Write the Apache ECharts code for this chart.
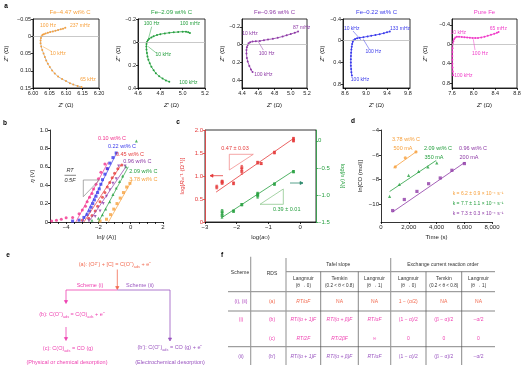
<!DOCTYPE html>
<html>
<head>
<meta charset="utf-8">
<script src="https://cdn.jsdelivr.net/npm/echarts@6/dist/echarts.min.js"></script>
<style>html,body{margin:0;padding:0;background:#fff}#main{width:525px;height:376px}</style>
</head>
<body>
<div id="main"></div>
<script>
var FONT = '"Liberation Sans", Arial, sans-serif';
var ORANGE = '#F7A03C', GREEN = '#27A040', PURPLE = '#8E3AA6', BLUE = '#3A3AEB',
    MAGENTA = '#F03CC8', PINK = '#F2308C', RED = '#E53B3B', CORAL = '#F26A50', GRAY = '#999';

// ---- a: Nyquist plots, [Z', Z''] in ohm ----
var nyq447 = [[6.147,0.147],[6.135,0.144],[6.122,0.140],[6.112,0.136],[6.100,0.130],[6.088,0.124],[6.076,0.117],
  [6.066,0.108],[6.058,0.099],[6.051,0.089],[6.045,0.080],[6.040,0.070],[6.036,0.060],[6.032,0.050],[6.028,0.040],
  [6.025,0.030],[6.023,0.020],[6.023,0.012],[6.024,0.005],[6.026,0.000],[6.029,-0.004],[6.033,-0.006],[6.038,-0.008],
  [6.045,-0.010],[6.052,-0.012],[6.060,-0.014],[6.068,-0.016],[6.076,-0.018],[6.084,-0.020],[6.091,-0.022],[6.098,-0.025]];
var nyq209 = [[4.88,0.345],[4.85,0.335],[4.82,0.318],[4.79,0.298],[4.76,0.272],[4.74,0.245],[4.72,0.215],[4.705,0.185],
  [4.693,0.155],[4.685,0.125],[4.68,0.095],[4.676,0.065],[4.675,0.040],[4.676,0.018],[4.68,0.0],[4.688,-0.015],
  [4.70,-0.028],[4.72,-0.040],[4.74,-0.050],[4.77,-0.060],[4.80,-0.068],[4.84,-0.075],[4.88,-0.080],[4.92,-0.084],
  [4.96,-0.087],[5.00,-0.090],[5.03,-0.090],[5.05,-0.085],[5.065,-0.078]];
var nyq096 = [[4.53,0.31],[4.51,0.28],[4.49,0.24],[4.47,0.19],[4.46,0.15],[4.455,0.10],[4.455,0.06],[4.46,0.03],
  [4.47,0.005],[4.48,-0.015],[4.50,-0.028],[4.53,-0.035],[4.57,-0.038],[4.62,-0.042],[4.67,-0.05],[4.72,-0.058],
  [4.78,-0.066],[4.84,-0.078],[4.90,-0.092],[4.95,-0.106],[5.00,-0.12],[5.05,-0.135],[5.09,-0.148]];
var nyq022 = [[8.73,0.64],[8.72,0.58],[8.715,0.52],[8.71,0.46],[8.71,0.40],[8.71,0.34],[8.712,0.28],[8.715,0.22],
  [8.72,0.16],[8.727,0.11],[8.735,0.06],[8.746,0.02],[8.76,-0.01],[8.79,-0.03],[8.83,-0.045],[8.88,-0.055],
  [8.95,-0.065],[9.03,-0.08],[9.10,-0.092],[9.18,-0.105],[9.26,-0.12],[9.34,-0.14],[9.40,-0.155],[9.454,-0.168]];
var nyqFe = [[7.62,0.64],[7.614,0.56],[7.61,0.48],[7.607,0.40],[7.606,0.32],[7.606,0.24],[7.607,0.16],[7.61,0.08],
  [7.615,0.0],[7.625,-0.06],[7.64,-0.11],[7.66,-0.14],[7.69,-0.155],[7.73,-0.155],[7.78,-0.15],[7.83,-0.145],
  [7.88,-0.14],[7.93,-0.135],[7.98,-0.13],[8.03,-0.128],[8.08,-0.13],[8.14,-0.14],[8.20,-0.155],[8.26,-0.175],
  [8.32,-0.195],[8.38,-0.215],[8.43,-0.235],[8.46,-0.25]];
var aTitles = ['Fe\u20134.47 wt% C', 'Fe\u20132.09 wt% C', 'Fe\u20130.96 wt% C', 'Fe\u20130.22 wt% C', 'Pure Fe'];
var aXTicks = [[6.00,6.05,6.10,6.15,6.20],[4.6,4.8,5.0,5.2],[4.4,4.6,4.8,5.0,5.2],[8.6,9.0,9.4,9.8],[7.6,8.0,8.4,8.8]];
var aYTicks = [[-0.05,0,0.05,0.10,0.15],[-0.2,0,0.2,0.4],[-0.2,0,0.2,0.4],[-0.4,0,0.4,0.8],[-0.4,0,0.4,0.8]];

// ---- b: Tafel plots, [ln i, eta] ----
var b010 = [[-4.9,0.01],[-4.6,0.02],[-4.3,0.03],[-4.0,0.045],[-3.6,0.05],[-3.2,0.09],[-3.0,0.13],[-2.8,0.17],[-2.7,0.22],
  [-2.55,0.27],[-2.4,0.31],[-2.3,0.36],[-2.15,0.41],[-2.0,0.47],[-1.85,0.54],[-1.6,0.63],[-1.45,0.58]];
var b022 = [[-3.6,0.01],[-3.2,0.02],[-2.9,0.05],[-2.7,0.08],[-2.55,0.12],[-2.45,0.16],[-2.35,0.2],[-2.25,0.24],
  [-2.15,0.28],[-2.05,0.32],[-1.95,0.36],[-1.85,0.41],[-1.75,0.46],[-1.6,0.52],[-1.45,0.58],[-1.3,0.64],[-1.1,0.7],[-0.9,0.75]];
var b045 = [[-3.0,0.02],[-2.6,0.04],[-2.4,0.07],[-2.2,0.12],[-2.05,0.17],[-1.9,0.22],[-1.75,0.27],[-1.6,0.32],
  [-1.45,0.38],[-1.3,0.43],[-1.15,0.48],[-1.0,0.53],[-0.8,0.58],[-0.55,0.62]];
var b096 = [[-2.6,0.02],[-2.2,0.06],[-1.9,0.12],[-1.7,0.2],[-1.5,0.28],[-1.3,0.35],[-1.1,0.42],[-0.9,0.47],
  [-0.75,0.61],[-0.35,0.61]];
var b209 = [[-2.4,0.02],[-2.0,0.04],[-1.75,0.08],[-1.55,0.14],[-1.3,0.22],[-1.1,0.3],[-0.9,0.37],[-0.7,0.44],
  [-0.5,0.5],[-0.3,0.6],[0.35,0.88]];
var b378 = [[-1.9,0.01],[-1.5,0.03],[-1.25,0.08],[-1.05,0.14],[-0.85,0.2],[-0.65,0.26],[-0.45,0.32],[-0.25,0.38],[-0.05,0.42]];
var bFit010 = [[-3.4,0],[-1.4,0.65]];
var bFit022 = [[-3.0,0],[-0.85,0.76]];
var bFit045 = [[-2.9,0],[-0.6,0.62]];
var bFit096 = [[-2.6,0],[-0.3,0.6]];
var bFit209 = [[-2.0,0],[-0.15,0.6]];
var bFit378 = [[-1.38,0],[0.1,0.46]];
var bNames = ['0.10 wt% C','0.22 wt% C','0.45 wt% C','0.96 wt% C','2.09 wt% C','3.78 wt% C'];

// ---- c: reaction order, [log aO, value] ----
var cRct = [[-2.63,0.76],[-2.46,0.85],[-2.46,0.88],[-2.10,0.84],[-1.84,1.10],[-1.84,1.18],[-1.34,1.29],[-1.23,1.27],
  [-0.81,1.51],[-0.21,1.77],[-0.21,1.81]];
var cRctErr = [0.04,0.03,0.03,0.03,0.06,0.05,0.03,0.02,0.03,0.03,0.03];
var cI0 = [[-2.46,-1.38],[-2.46,-1.31],[-2.10,-1.30],[-1.84,-1.18],[-1.34,-1.02],[-1.34,-0.98],[-0.81,-0.80],[-0.21,-0.57]];
var cI0Err = [0.05,0.04,0.02,0.02,0.04,0.03,0.02,0.02];
var cFitRct = [[-2.65,0.65],[-0.2,1.82]];
var cFitI0 = [[-2.5,-1.43],[-0.2,-0.55]];

// ---- d: ln[CO] vs time ----
var d378 = [[1030,-6.97],[1750,-6.24],[2520,-5.76]];
var d209 = [[620,-9.34],[1320,-8.37],[1990,-7.65],[2710,-7.32],[3380,-6.97],[4020,-6.64]];
var d096 = [[840,-10.48],[1680,-9.59],[2590,-8.94],[3430,-8.32],[4270,-7.86],[5110,-7.24],[6010,-6.70]];
var dFit378 = [[900,-7.05],[2600,-5.7]];
var dFit209 = [[620,-8.95],[3980,-6.45]];
var dFit096 = [[830,-10.6],[6050,-6.6]];

var chart = echarts.init(document.getElementById('main'));
var grids = [], xAxes = [], yAxes = [], series = [], graphics = [];

function fmt(v, d) {
  if (Math.abs(v) < 1e-9) return '0';
  return v.toFixed(d).replace('-', '\u2212');
}
function axis(o) {
  var c = o.color || '#000';
  var ax = {
    type: 'value', gridIndex: o.grid, min: o.min, max: o.max, inverse: !!o.inverse, position: o.position,
    axisLine: { show: true, onZero: false, lineStyle: { color: c, width: 0.8 } },
    axisTick: { show: true, length: 2, lineStyle: { color: c, width: 0.8 } },
    splitLine: { show: false },
    axisLabel: { fontSize: o.fs || 5.5, color: o.labelColor || '#222', margin: 2, fontFamily: FONT,
      formatter: o.formatter || function (v) { return fmt(v, o.dec || 0); } },
    name: o.name, nameLocation: 'middle', nameGap: o.gap, nameRotate: o.rotate,
    nameTextStyle: { fontSize: 6, color: o.nameColor || '#222', fontFamily: FONT,
      rich: { i: { fontStyle: 'italic', fontSize: 6, fontFamily: FONT },
              s: { fontSize: 4.2, verticalAlign: 'bottom', fontFamily: FONT } } }
  };
  if (o.labels) { ax.axisLabel.customValues = o.labels; ax.axisTick.customValues = o.ticks || o.labels; }
  if (o.interval) ax.interval = o.interval;
  return ax;
}
function txt(x, y, s, fill, size, align, opt) {
  opt = opt || {};
  var st = { text: s, fill: fill || '#222',
    font: (opt.italic ? 'italic ' : '') + (opt.bold ? 'bold ' : '') + (size || 5.5) + 'px ' + FONT,
    align: align || 'center', verticalAlign: 'middle', textAlign: align || 'center', textVerticalAlign: 'middle' };
  if (opt.rich) { st.rich = opt.rich; st.lineHeight = 9; }
  graphics.push({ type: 'text', x: x, y: y, silent: true, z: 100, style: st });
}
function ln(x1, y1, x2, y2, color, w) {
  graphics.push({ type: 'line', silent: true, z: 100, shape: { x1: x1, y1: y1, x2: x2, y2: y2 },
    style: { stroke: color, lineWidth: w || 0.7 } });
}
function poly(pts, stroke, fill) {
  graphics.push({ type: 'polygon', silent: true, z: 100, shape: { points: pts },
    style: { stroke: stroke, fill: fill || 'none', lineWidth: 0.7 } });
}
function arrowDown(x, y1, y2, c) { ln(x, y1, x, y2 - 2, c, 0.8); poly([[x - 1.6, y2 - 3], [x + 1.6, y2 - 3], [x, y2]], c, c); }

// ---------- panel a ----------
var aData = [nyq447, nyq209, nyq096, nyq022, nyqFe];
var aColors = [ORANGE, GREEN, PURPLE, BLUE, MAGENTA];
var aBox = [[33, 19, 66, 69], [138, 19, 67, 69], [242, 19, 65, 69], [343, 19, 67, 69], [452, 19, 65, 69]];
var aX = [[6.00, 6.20], [4.6, 5.2], [4.4, 5.2], [8.56, 9.84], [7.6, 8.8]];
var aY = [[-0.05, 0.15], [-0.2, 0.4], [-0.29, 0.49], [-0.4, 0.87], [-0.52, 0.9]];
var aXDec = [2, 1, 1, 1, 1], aYDec = [2, 1, 1, 1, 1], aGap = [24, 11, 16, 18, 24];
for (var i = 0; i < 5; i++) {
  var b = aBox[i];
  grids.push({ left: b[0], top: b[1], width: b[2], height: b[3], show: true, borderColor: '#000', borderWidth: 0.8 });
  xAxes.push(axis({ grid: i, min: aX[i][0], max: aX[i][1], labels: aXTicks[i], dec: aXDec[i],
    name: '{i|Z}\u2032 (\u03A9)', gap: 14 }));
  yAxes.push(axis({ grid: i, min: aY[i][0], max: aY[i][1], inverse: true, labels: aYTicks[i], dec: aYDec[i],
    name: '{i|Z}\u2033 (\u03A9)', gap: aGap[i], rotate: 90 }));
  series.push({ type: 'line', xAxisIndex: i, yAxisIndex: i, data: aData[i], symbol: 'circle', symbolSize: 2,
    itemStyle: { color: aColors[i] }, lineStyle: { color: i === 0 ? '#aaa' : aColors[i], width: 0.8 },
    markLine: { silent: true, symbol: 'none', label: { show: false }, animation: false,
      lineStyle: { color: '#bbb', width: 0.8, type: 'solid' }, data: [{ yAxis: 0 }] } });
  txt(b[0] + b[2] / 2 + (i === 0 ? 4 : 0), 12, aTitles[i], aColors[i], 6);
}
// frequency labels
var aNotes = [
  [48, 25.7, '100 Hz', 0], [80, 25.7, '237 mHz', 0], [58, 53.3, '10 kHz', 0], [88, 80, '65 kHz', 0],
  [151.7, 24, '100 Hz', 1], [190, 24, '100 mHz', 1], [163.3, 55, '10 kHz', 1], [188.3, 82.7, '100 kHz', 1],
  [250, 33.3, '10 kHz', 2], [301.7, 27.3, '87 mHz', 2], [266.7, 53.3, '100 Hz', 2], [263.3, 75, '100 kHz', 2],
  [351.7, 29, '10 kHz', 3], [400, 28.3, '133 mHz', 3], [373.3, 51.7, '100 Hz', 3], [360, 80, '100 kHz', 3],
  [458.3, 32.3, '10 kHz', 4], [498.3, 28.3, '65 mHz', 4], [480, 54, '100 Hz', 4], [463.3, 76, '100 kHz', 4]];
aNotes.forEach(function (n) { txt(n[0], n[1], n[2], aColors[n[3]], 5); });
var aLeaders = [[43, 46.7, 52, 51.7, 0], [151.7, 26.7, 148.3, 39.3, 1], [148.3, 46.7, 156.7, 53.3, 1],
  [258.3, 41.7, 263.3, 50, 2], [353, 31, 361, 40, 3], [363.3, 39.3, 369.3, 49.3, 3], [473.3, 39.3, 475, 50, 4]];
aLeaders.forEach(function (l) { ln(l[0], l[1], l[2], l[3], aColors[l[4]], 0.5); });

// ---------- panel b ----------
grids.push({ left: 50, top: 130, width: 113, height: 92 });
xAxes.push(axis({ grid: 5, min: -5, max: 2, labels: [-4, -2, 0, 2], fs: 6,
  ticks: [-5, -4.5, -4, -3.5, -3, -2.5, -2, -1.5, -1, -0.5, 0, 0.5, 1, 1.5, 2],
  name: 'ln[{i|i} (A)]', gap: 12 }));
yAxes.push(axis({ grid: 5, min: 0, max: 1, interval: 0.2, fs: 6,
  formatter: function (v) { return v === 0 ? '0' : v.toFixed(1); }, name: '{i|\u03B7} (V)', gap: 13, rotate: 90 }));
var bData = [b010, b022, b045, b096, b209, b378];
var bFits = [bFit010, bFit022, bFit045, bFit096, bFit209, bFit378];
var bColors = [PINK, BLUE, RED, PURPLE, GREEN, ORANGE];
var bSym = ['circle', 'rect', 'circle', 'triangle', 'triangle', 'rect'];
for (var j = 0; j < 6; j++) {
  series.push({ type: 'line', xAxisIndex: 5, yAxisIndex: 5, data: bFits[j], symbol: 'none',
    lineStyle: { color: bColors[j], width: 0.7 } });
  series.push({ type: 'scatter', xAxisIndex: 5, yAxisIndex: 5, data: bData[j], symbol: bSym[j],
    symbolRotate: j === 3 ? 180 : 0, symbolSize: 3, itemStyle: { color: bColors[j] } });
}
var bLab = [[112, 138.3], [122, 146.7], [130, 154.3], [137.3, 161.7], [143.3, 171], [143.3, 179]];
bLab.forEach(function (p, k) { txt(p[0], p[1], bNames[k], bColors[k], 5.5); });
poly([[83.3, 180], [99.3, 180], [83.3, 196.7]], '#888');
txt(70, 170.5, 'RT', '#333', 5.5, 'center', { italic: true });
ln(64.5, 175.3, 76, 175.3, '#333', 0.6);
txt(70, 180.5, '0.5F', '#333', 5.5, 'center', { italic: true });

// ---------- panel c ----------
grids.push({ left: 205, top: 130, width: 111, height: 92, show: true, borderColor: '#000', borderWidth: 0.8 });
xAxes.push(axis({ grid: 6, min: -3, max: 0.5, labels: [-3, -2, -1, 0], fs: 6,
  name: 'log({i|a}{s|O})', gap: 12 }));
yAxes.push(axis({ grid: 6, min: 0, max: 2, interval: 0.5, fs: 6, color: RED, labelColor: RED, nameColor: RED,
  formatter: function (v) { return v === 0 ? '0' : v.toFixed(1); },
  name: 'log[{i|R}{s|ct}\u207B\u00B9 (\u03A9\u207B\u00B9)]', gap: 20, rotate: 90 }));
yAxes.push(axis({ grid: 6, min: -1.5, max: 0.2, position: 'right', labels: [-1.5, -1, -0.5, 0], fs: 6,
  color: GREEN, labelColor: GREEN, nameColor: GREEN, dec: 1,
  name: 'log[{i|i}{s|0} (A)]', gap: 24, rotate: -90 }));
function errRender(params, api) {
  var x = api.value(0), lo = api.value(1), hi = api.value(2);
  var p1 = api.coord([x, lo]), p2 = api.coord([x, hi]);
  var c = api.visual('color');
  var st = { stroke: c, lineWidth: 0.7 };
  return { type: 'group', children: [
    { type: 'line', shape: { x1: p1[0], y1: p1[1], x2: p2[0], y2: p2[1] }, style: st },
    { type: 'line', shape: { x1: p1[0] - 1.2, y1: p1[1], x2: p1[0] + 1.2, y2: p1[1] }, style: st },
    { type: 'line', shape: { x1: p2[0] - 1.2, y1: p2[1], x2: p2[0] + 1.2, y2: p2[1] }, style: st }] };
}
series.push({ type: 'line', xAxisIndex: 6, yAxisIndex: 6, data: cFitRct, symbol: 'none', lineStyle: { color: RED, width: 0.8 } });
series.push({ type: 'line', xAxisIndex: 6, yAxisIndex: 7, data: cFitI0, symbol: 'none', lineStyle: { color: GREEN, width: 0.8 } });
series.push({ type: 'custom', xAxisIndex: 6, yAxisIndex: 6, renderItem: errRender, itemStyle: { color: RED },
  data: cRct.map(function (p, k) { return [p[0], p[1] - cRctErr[k], p[1] + cRctErr[k]]; }) });
series.push({ type: 'custom', xAxisIndex: 6, yAxisIndex: 7, renderItem: errRender, itemStyle: { color: GREEN },
  data: cI0.map(function (p, k) { return [p[0], p[1] - cI0Err[k], p[1] + cI0Err[k]]; }) });
series.push({ type: 'scatter', xAxisIndex: 6, yAxisIndex: 6, data: cRct, symbol: 'rect', symbolSize: 3, itemStyle: { color: RED } });
series.push({ type: 'scatter', xAxisIndex: 6, yAxisIndex: 7, data: cI0, symbol: 'rect', symbolSize: 3, itemStyle: { color: GREEN } });
poly([[229.3, 154.3], [253.3, 154.3], [229.3, 170]], '#F08080');
txt(235, 148.3, '0.47 \u00B1 0.03', RED, 5.5);
poly([[260, 204.3], [283.3, 204.3], [283.3, 189]], '#80C080');
txt(286.7, 209.5, '0.39 \u00B1 0.01', GREEN, 5.5);
ln(210, 175.7, 223, 175.7, RED, 0.8); poly([[210, 175.7], [213, 174.2], [213, 177.2]], RED, RED);
ln(290, 183, 303, 183, '#2E8B6E', 0.8); poly([[303, 183], [300, 181.5], [300, 184.5]], '#2E8B6E', '#2E8B6E');

// ---------- panel d ----------
grids.push({ left: 381, top: 130, width: 111, height: 92 });
xAxes.push(axis({ grid: 7, min: 0, max: 8000, interval: 2000, fs: 6,
  formatter: function (v) { return v === 0 ? '0' : String(v).replace(/(\d)(\d{3})$/, '$1,$2'); },
  name: 'Time (s)', gap: 12 }));
yAxes.push(axis({ grid: 7, min: -11.4, max: -4, labels: [-10, -8, -6, -4], fs: 6,
  name: 'ln[CO (mol)]', gap: 18, rotate: 90 }));
var dSets = [[d378, dFit378, ORANGE, 'circle'], [d209, dFit209, GREEN, 'triangle'], [d096, dFit096, PURPLE, 'rect']];
dSets.forEach(function (s) {
  series.push({ type: 'line', xAxisIndex: 7, yAxisIndex: 8, data: s[1], symbol: 'none', lineStyle: { color: s[2], width: 0.8 } });
  series.push({ type: 'scatter', xAxisIndex: 7, yAxisIndex: 8, data: s[0], symbol: s[3], symbolSize: 3.2, itemStyle: { color: s[2] } });
});
txt(406, 139, '3.78 wt% C', ORANGE, 5.5); txt(403, 148, '500 mA', ORANGE, 5.5);
txt(438, 148, '2.09 wt% C', GREEN, 5.5); txt(434, 157, '350 mA', GREEN, 5.5);
txt(473, 148, '0.96 wt% C', PURPLE, 5.5); txt(469, 157, '200 mA', PURPLE, 5.5);
txt(478, 194, 'k = 6.2 \u00B1 0.9 \u00D7 10\u207B\u2074 s\u207B\u00B9', ORANGE, 5);
txt(478, 204, 'k = 7.7 \u00B1 1.1 \u00D7 10\u207B\u2074 s\u207B\u00B9', GREEN, 5);
txt(478, 214, 'k = 7.3 \u00B1 0.3 \u00D7 10\u207B\u2074 s\u207B\u00B9', PURPLE, 5);

// ---------- panel letters ----------
txt(6, 6, 'a', '#000', 6.5, 'center', { bold: true });
txt(5, 123, 'b', '#000', 6.5, 'center', { bold: true });
txt(178, 122, 'c', '#000', 6.5, 'center', { bold: true });
txt(353, 121, 'd', '#000', 6.5, 'center', { bold: true });
txt(8, 255, 'e', '#000', 6.5, 'center', { bold: true });
txt(222, 255, 'f', '#000', 6.5, 'center', { bold: true });

// ---------- panel e: scheme ----------
var SCH1 = '#EE3FB0', SCH2 = '#9A55C0';
var rich = { s: { fontSize: 3.8, verticalAlign: 'bottom', fontFamily: FONT } };
txt(115, 264, '(a): (O\u00B2\u207B) + [C] = C(O\u207B){s|ads} + e\u207B', CORAL, 5.5, 'center', { rich: rich });
arrowDown(117.3, 269.5, 289.5, CORAL);
ln(66, 290, 117.3, 290, SCH1, 0.8); ln(117.3, 290, 170, 290, SCH2, 0.8);
txt(90, 285.7, 'Scheme (i)', SCH1, 5.5); txt(140, 285.7, 'Scheme (ii)', SCH2, 5.5);
arrowDown(66, 290, 303.5, SCH1);
txt(72, 314, '(b): C(O\u207B){s|ads} = C(O){s|ads} + e\u207B', SCH1, 5.5, 'center', { rich: rich });
arrowDown(66, 327, 340.5, SCH1);
txt(68, 348.3, '(c): C(O){s|ads} = CO (g)', SCH1, 5.5, 'center', { rich: rich });
txt(67, 362.7, '(Physical or chemical desorption)', SCH1, 5.5);
arrowDown(170, 290, 341, SCH2);
txt(170, 347.3, '(b\u2032): C(O\u207B){s|ads} = CO (g) + e\u207B', SCH2, 5.5, 'center', { rich: rich });
txt(170, 362.7, '(Electrochemical desorption)', SCH2, 5.5);

// ---------- panel f: table ----------
var TL = '#555', TG = '#999';
[291.7, 311, 346.7].forEach(function (y) { ln(228, y, 495, y, TL, 0.7); });
ln(286, 271.7, 495, 271.7, TL, 0.7);
ln(250.7, 256.7, 250.7, 365, TG, 1.1);
ln(286, 258, 286, 365, TG, 1.1);
ln(390.7, 258, 390.7, 365, TG, 1.1);
[320.7, 358.3, 426, 461.7].forEach(function (x) { ln(x, 271.7, x, 365, TL, 0.7); });
var HC = '#333';
txt(240, 272.7, 'Scheme', HC, 5); txt(272, 273.3, 'RDS', HC, 5);
txt(338.3, 265, 'Tafel slope', HC, 5); txt(443, 265, 'Exchange current reaction order', HC, 5);
var cols = [303.3, 339.5, 374.5, 408.3, 443.8, 478.5];
var sub1 = ['Langmuir', 'Temkin', 'Langmuir', 'Langmuir', 'Temkin', 'Langmuir'];
var sub2 = ['(\u03B8 \u2192 0)', '(0.2 < \u03B8 < 0.8)', '(\u03B8 \u2192 1)', '(\u03B8 \u2192 0)', '(0.2 < \u03B8 < 0.8)', '(\u03B8 \u2192 1)'];
cols.forEach(function (x, k) { txt(x, 279, sub1[k], HC, 5); txt(x, 285.7, sub2[k], HC, 4.6); });
var rowY = [301.7, 320, 339, 356.7];
var rowCol = [CORAL, SCH1, SCH1, SCH2];
var rowScheme = ['(i), (ii)', '(i)', '', '(ii)'];
var rowRds = ['(a)', '(b)', '(c)', '(b\u2032)'];
var rowCells = [
  ['RT/\u03B1F', 'NA', 'NA', '1 \u2212 (\u03B1/2)', 'NA', 'NA'],
  ['RT/(\u03B1 + 1)F', 'RT/(\u03B1 + \u03B2)F', 'RT/\u03B1F', '(1 \u2212 \u03B1)/2', '(\u03B2 \u2212 \u03B1)/2', '\u2212\u03B1/2'],
  ['RT/2F', 'RT/2\u03B2F', '\u221E', '0', '0', '0'],
  ['RT/(\u03B1 + 1)F', 'RT/(\u03B1 + \u03B2)F', 'RT/\u03B1F', '(1 \u2212 \u03B1)/2', '(\u03B2 \u2212 \u03B1)/2', '\u2212\u03B1/2']];
rowY.forEach(function (y, r) {
  if (rowScheme[r]) txt(241, y, rowScheme[r], r === 0 ? '#B04AC0' : rowCol[r], 5);
  txt(272, y, rowRds[r], rowCol[r], 5);
  rowCells[r].forEach(function (s, k) {
    txt(cols[k], y, s, rowCol[r], 5, 'center', { italic: s.indexOf('RT') === 0 });
  });
});

chart.setOption({
  animation: false,
  textStyle: { fontFamily: FONT },
  grid: grids, xAxis: xAxes, yAxis: yAxes, series: series, graphic: { elements: graphics }
});
</script>
</body>
</html>
